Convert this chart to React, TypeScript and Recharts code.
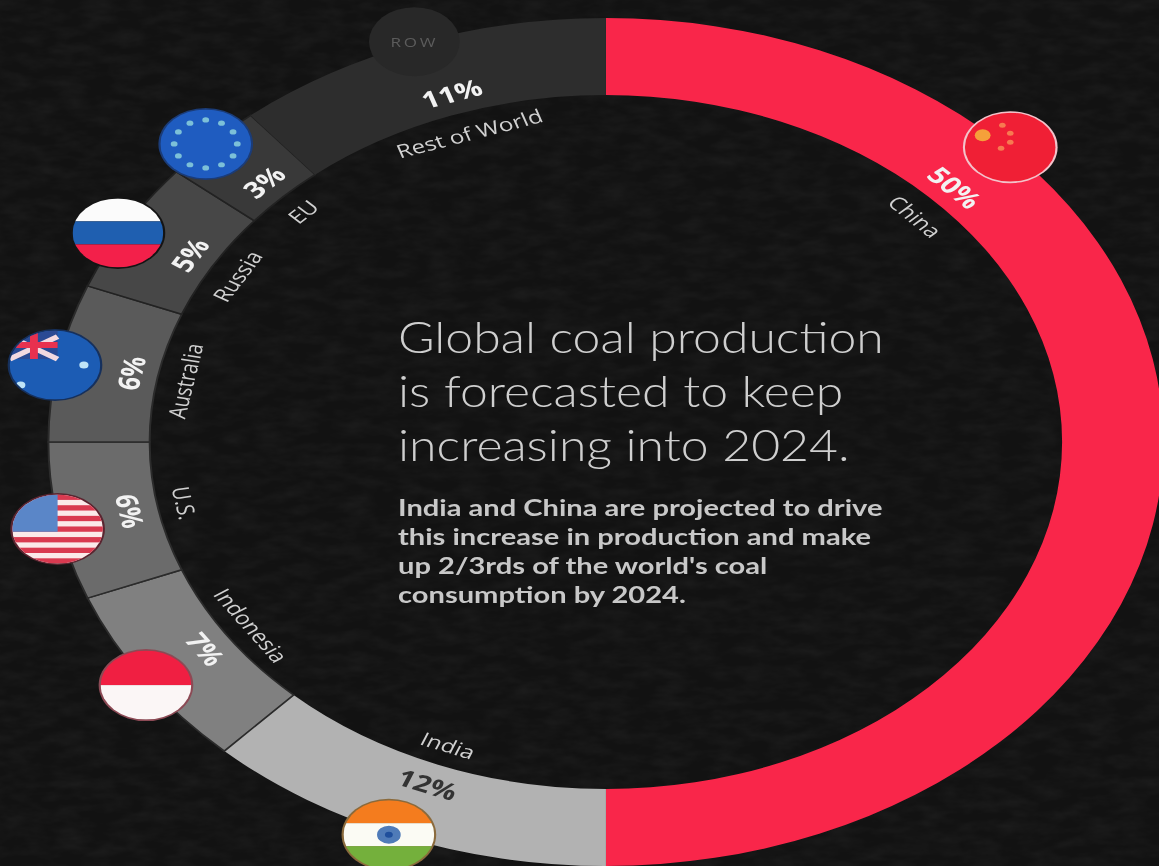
import { PieChart, Pie, Cell } from 'recharts'

const regions = ['China', 'India', 'Indonesia', 'U.S.', 'Australia', 'Russia', 'EU', 'Rest of World']
const shares = [50, 12, 7, 6, 6, 5, 3, 11]
const headingLines = ['Global coal production', 'is forecasted to keep', 'increasing into 2024.']
const bodyLines = [
  'India and China are projected to drive',
  'this increase in production and make',
  "up 2/3rds of the world's coal",
  'consumption by 2024.',
]

const sliceColors = ['#f9264a', '#b2b2b2', '#808080', '#6b6b6b', '#5a5a5a', '#474747', '#393939', '#2d2d2d']
const sliceStrokes = ['none', 'none', '#2b2b2b', '#2b2b2b', '#2b2b2b', '#222222', '#222222', 'none']
// compass bearing of each flag round the ring
const flagBearings = [46.2, 202.8, 235.2, 258.2, 280.4, 299.4, 314.4, 340]

const chartData = regions.map((name, i) => ({ name, value: shares[i] }))

// the source picture is an oval, so the round pie gets stretched sideways
const STRETCH = 1.315
const CX = 460.8
const CY = 442
const INNER = 347
const OUTER = 424
const RAD = Math.PI / 180

function Clipped({ id, x, y, r, children, ring = '#111' }: any) {
  return (
    <g>
      <clipPath id={id}>
        <circle cx={x} cy={y} r={r} />
      </clipPath>
      <circle cx={x} cy={y} r={r + 1.5} fill={ring} />
      <g clipPath={`url(#${id})`}>{children}</g>
    </g>
  )
}

function Flag({ name, x, y }: { name: string; x: number; y: number }) {
  const r = 34.5
  const left = x - r
  const top = y - r
  const d = r * 2
  if (name === 'China') {
    return (
      <Clipped id="f-cn" x={x} y={y} r={r} ring="#f3c3cb">
        <rect x={left} y={top} width={d} height={d} fill="#f01f35" />
        <circle cx={x - 21} cy={y - 12} r={6} fill="#f5a03a" />
        <circle cx={x - 6} cy={y - 22} r={2.5} fill="#f77a50" />
        <circle cx={x} cy={y - 14} r={2.5} fill="#f77a50" />
        <circle cx={x} cy={y - 5} r={2.5} fill="#f77a50" />
        <circle cx={x - 7} cy={y + 1} r={2.5} fill="#f77a50" />
      </Clipped>
    )
  }
  if (name === 'India') {
    return (
      <Clipped id="f-in" x={x} y={y} r={r} ring="#8a6a3c">
        <rect x={left} y={top} width={d} height={d / 3} fill="#f47c1e" />
        <rect x={left} y={top + d / 3} width={d} height={d / 3} fill="#fbfbf4" />
        <rect x={left} y={top + (2 * d) / 3} width={d} height={d / 3} fill="#74b03c" />
        <circle cx={x} cy={y} r={9} fill="#4f7bb8" />
        <circle cx={x} cy={y} r={3} fill="#1f4f9c" />
      </Clipped>
    )
  }
  if (name === 'Indonesia') {
    return (
      <Clipped id="f-id" x={x} y={y} r={r} ring="#8c4a55">
        <rect x={left} y={top} width={d} height={d / 2} fill="#f01f42" />
        <rect x={left} y={y} width={d} height={d / 2} fill="#fbf6f6" />
      </Clipped>
    )
  }
  if (name === 'U.S.') {
    return (
      <Clipped id="f-us" x={x} y={y} r={r} ring="#5a2530">
        <rect x={left} y={top} width={d} height={d} fill="#fbeaea" />
        {[0, 2, 4, 6, 8, 10, 12].map(s => (
          <rect key={s} x={left} y={top + (s * d) / 13} width={d} height={d / 13} fill="#d93a50" />
        ))}
        <rect x={left} y={top} width={r} height={(7 * d) / 13} fill="#5a86c8" />
      </Clipped>
    )
  }
  if (name === 'Australia') {
    return (
      <Clipped id="f-au" x={x} y={y} r={r} ring="#16305c">
        <rect x={left} y={top} width={d} height={d} fill="#1c5cb4" />
        <rect x={left} y={top} width={r + 2} height={r - 6} fill="#2b4a94" />
        <path d={`M${left} ${top + 6}L${x + 2} ${y - 6}M${left} ${y - 6}L${x + 2} ${top + 6}`} stroke="#f3d9e0" strokeWidth={5} />
        <path d={`M${left} ${y - 20}H${x + 2}M${x - 16} ${top}V${y - 6}`} stroke="#e8314f" strokeWidth={6} />
        <circle cx={x + 22} cy={y} r={3.5} fill="#bfe4f7" />
        <circle cx={x - 26} cy={y + 20} r={3.5} fill="#bfe4f7" />
      </Clipped>
    )
  }
  if (name === 'Russia') {
    return (
      <Clipped id="f-ru" x={x} y={y} r={r} ring="#141414">
        <rect x={left} y={top} width={d} height={d / 3} fill="#fbfbfb" />
        <rect x={left} y={top + d / 3} width={d} height={d / 3} fill="#1f5fb0" />
        <rect x={left} y={top + (2 * d) / 3} width={d} height={d / 3} fill="#f3204a" />
      </Clipped>
    )
  }
  if (name === 'EU') {
    return (
      <Clipped id="f-eu" x={x} y={y} r={r} ring="#1b3c78">
        <rect x={left} y={top} width={d} height={d} fill="#1f5cc0" />
        {[0, 30, 60, 90, 120, 150, 180, 210, 240, 270, 300, 330].map(a => (
          <circle key={a} cx={x + 24 * Math.cos(a * RAD)} cy={y + 24 * Math.sin(a * RAD)} r={2.6} fill="#7cc0d8" />
        ))}
      </Clipped>
    )
  }
  return (
    <g>
      <circle cx={x} cy={y} r={r} fill="#282828" />
      <text x={x} y={y} textAnchor="middle" dominantBaseline="central" fill="#5c5c5c" fontSize={13} letterSpacing={2} fontFamily="Open Sans">
        ROW
      </text>
    </g>
  )
}

function renderSliceLabel(props: any) {
  const name = props.payload?.name ?? props.name
  const i = regions.indexOf(name)
  // China's labels sit a quarter of the way round, not at the slice middle
  let bearing = name === 'China' ? flagBearings[0] : (90 - props.midAngle + 360) % 360
  if (name === 'Rest of World') bearing += 1.2
  const at = (r: number, b = bearing) => ({
    x: CX + r * Math.sin(b * RAD),
    y: CY - r * Math.cos(b * RAD),
  })
  const rotate = bearing > 90 && bearing < 270 ? bearing - 180 : bearing
  const pct = at(368)
  const nameAt = at(326)
  const flag = at(426, flagBearings[i])
  return (
    <g key={name} fontFamily="Open Sans">
      <Flag name={name} x={flag.x} y={flag.y} />
      <text
        x={pct.x}
        y={pct.y}
        transform={`rotate(${rotate} ${pct.x} ${pct.y})`}
        textAnchor="middle"
        dominantBaseline="central"
        fontSize={23}
        fontWeight={700}
        fill={name === 'India' ? '#333333' : '#f2f2f2'}
      >
        {props.value}%
      </text>
      <text
        x={nameAt.x}
        y={nameAt.y}
        transform={`rotate(${rotate} ${nameAt.x} ${nameAt.y})`}
        textAnchor="middle"
        dominantBaseline="central"
        fontSize={18.5}
        fill="#d0d0d0"
      >
        {name}
      </text>
    </g>
  )
}

export default function App() {
  return (
    <div style={{ position: 'fixed', left: 0, top: 0, width: 1159, height: 866, overflow: 'hidden', background: '#121212' }}>
      <svg width={1159} height={866} style={{ position: 'absolute', left: 0, top: 0 }}>
        <filter id="grain">
          <feTurbulence type="fractalNoise" baseFrequency="0.035 0.09" numOctaves={3} seed={4} />
          <feColorMatrix values="0 0 0 0 1  0 0 0 0 1  0 0 0 0 1  0.07 0 0 0 -0.025" />
        </filter>
        <rect width={1159} height={866} filter="url(#grain)" />
      </svg>
      <div style={{ position: 'absolute', left: 0, top: 0, transform: `scaleX(${STRETCH})`, transformOrigin: '0 0', filter: 'blur(0.5px)' }}>
        <PieChart width={882} height={866} margin={{ top: 0, right: 0, bottom: 0, left: 0 }}>
          <Pie
            data={chartData}
            dataKey="value"
            nameKey="name"
            cx={CX}
            cy={CY}
            innerRadius={INNER}
            outerRadius={OUTER}
            startAngle={90}
            endAngle={-270}
            paddingAngle={0}
            label={renderSliceLabel}
            labelLine={false}
            isAnimationActive={false}
          >
            {chartData.map((d, i) => (
              <Cell key={d.name} fill={sliceColors[i]} stroke={sliceStrokes[i]} strokeWidth={1.5} />
            ))}
          </Pie>
        </PieChart>
      </div>
      <div style={{ position: 'absolute', left: 398, top: 309, fontFamily: 'Lato', fontWeight: 300, fontSize: 44, lineHeight: '54px', color: '#cfcfcf', whiteSpace: 'nowrap', transform: 'scaleX(1.135)', transformOrigin: '0 0', filter: 'blur(0.4px)' }}>
        {headingLines.map(l => (
          <div key={l}>{l}</div>
        ))}
      </div>
      <div style={{ position: 'absolute', left: 398, top: 493, fontFamily: 'Lato', fontWeight: 700, fontSize: 23, lineHeight: '29px', color: '#c8c8c8', whiteSpace: 'nowrap', transform: 'scaleX(1.265)', transformOrigin: '0 0', filter: 'blur(0.4px)' }}>
        {bodyLines.map(l => (
          <div key={l}>{l}</div>
        ))}
      </div>
    </div>
  )
}
